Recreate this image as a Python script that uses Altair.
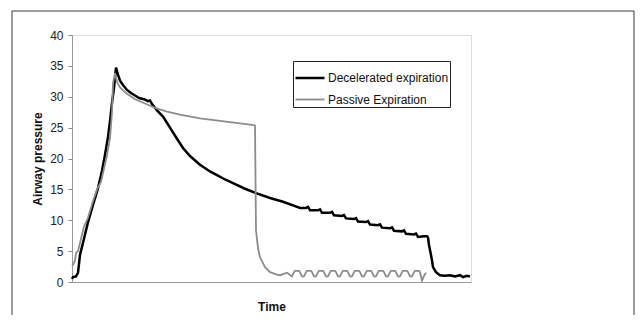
import altair as alt
import pandas as pd

series = ["Decelerated expiration", "Passive Expiration"]
y_ticks = [0, 5, 10, 15, 20, 25, 30, 35, 40]

# Decelerated expiration (time in arbitrary sample units)
dec_time = [0, 1, 4, 6, 8, 12, 16, 21, 26, 30, 33, 36, 38, 40, 42, 44,
            46, 48, 51, 55, 59, 63, 67, 72, 76, 78, 80, 85, 91, 98, 105, 111,
            118, 128, 138, 145, 153, 161, 173, 184, 198, 211, 221, 228,
            234, 236, 238, 246, 248, 250, 258, 260, 262, 270, 272, 274,
            282, 284, 286, 294, 296, 298, 306, 308, 310, 318, 320, 322,
            330, 332, 334, 342, 344, 346, 352, 355, 356, 357, 358, 360,
            361, 364, 368, 373, 378, 383, 388, 391, 395, 398]
dec_pres = [0.5, 0.8, 0.9, 1.5, 4.4, 7.0, 9.7, 12.5, 15.2, 18.0, 20.6, 23.5, 26.0, 29.0, 31.4, 34.7,
            33.6, 32.6, 31.9, 31.1, 30.6, 30.2, 29.8, 29.6, 29.3, 29.4, 28.8, 27.8, 26.8, 25.0, 23.2, 21.7,
            20.4, 19.0, 17.9, 17.3, 16.6, 16.0, 15.1, 14.4, 13.6, 13.0, 12.4, 12.0,
            12.0, 12.15, 11.6, 11.6, 11.75, 11.2, 11.2, 11.35, 10.8, 10.7, 10.85, 10.3,
            10.2, 10.35, 9.8, 9.7, 9.85, 9.3, 9.2, 9.35, 8.8, 8.7, 8.85, 8.3,
            8.2, 8.35, 7.8, 7.7, 7.85, 7.3, 7.4, 7.4, 7.2, 6.0, 5.2, 3.5,
            2.4, 1.6, 1.1, 1.0, 1.1, 0.9, 1.1, 0.8, 1.0, 0.9]

# Passive expiration
pas_time = [0, 1, 3, 4, 6, 9, 12, 16, 20, 25, 29, 35, 38, 40, 41, 43,
            45, 48, 54, 63, 76, 83, 95, 108, 128, 148, 168, 182, 183,
            184, 186, 188, 193, 198, 205, 208, 215,
            220, 222, 223, 227, 228, 230,
            232, 234, 235, 239, 240, 242,
            244, 246, 247, 251, 252, 254,
            256, 258, 259, 263, 264, 266,
            268, 270, 271, 275, 276, 278,
            280, 282, 283, 287, 288, 290,
            292, 294, 295, 299, 300, 302,
            304, 306, 307, 311, 312, 314,
            316, 318, 319, 323, 324, 326,
            328, 330, 331, 335, 336, 338,
            340, 342, 343, 347, 348, 350, 352, 354]
pas_pres = [2.6, 2.8, 3.5, 4.7, 5.0, 7.0, 9.0, 10.4, 12.6, 15.0, 16.2, 20.5, 23.3, 27.5, 32.2, 33.8,
            32.4, 31.5, 30.6, 29.6, 28.7, 28.2, 27.6, 27.1, 26.5, 26.1, 25.7, 25.4, 25.3,
            8.4, 5.5, 4.0, 2.4, 1.6, 1.2, 1.1, 1.5,
            0.9, 1.6, 1.8, 1.8, 1.6, 0.9,
            0.9, 1.6, 1.8, 1.8, 1.6, 0.9,
            0.9, 1.6, 1.8, 1.8, 1.6, 0.9,
            0.9, 1.6, 1.8, 1.8, 1.6, 0.9,
            0.9, 1.6, 1.8, 1.8, 1.6, 0.9,
            0.9, 1.6, 1.8, 1.8, 1.6, 0.9,
            0.9, 1.6, 1.8, 1.8, 1.6, 0.9,
            0.9, 1.6, 1.8, 1.8, 1.6, 0.9,
            0.9, 1.6, 1.8, 1.8, 1.6, 0.9,
            0.9, 1.6, 1.8, 1.8, 1.6, 0.9,
            0.9, 1.6, 1.8, 1.8, 1.6, 0.2, 1.0, 1.5]

df = pd.concat([
    pd.DataFrame({"t": dec_time, "p": dec_pres, "s": series[0]}),
    pd.DataFrame({"t": pas_time, "p": pas_pres, "s": series[1]}),
])

FONT = "Liberation Sans"
FRAME = "#3a3a3a"


def frame_rule(**enc):
    return alt.Chart(alt.Data(values=[{"k": 1}])).mark_rule(
        stroke=FRAME, strokeWidth=1
    ).encode(**enc)


frame_top = frame_rule(x=alt.value(-60), x2=alt.value(562), y=alt.value(-24))
frame_left = frame_rule(x=alt.value(-60), y=alt.value(-24), y2=alt.value(300))
frame_right = frame_rule(x=alt.value(562), y=alt.value(-24), y2=alt.value(300))

lines = alt.Chart(df).mark_line(interpolate="linear").encode(
    x=alt.X("t:Q", scale=alt.Scale(domain=[0, 399], nice=False, zero=False),
            axis=alt.Axis(title="Time", labels=False, ticks=False, grid=False,
                          titlePadding=19, titleFontWeight="bold", titleFontSize=12,
                          titleFont=FONT, titleColor="#111111", domainColor="#999999")),
    y=alt.Y("p:Q", scale=alt.Scale(domain=[0, 40], nice=False),
            axis=alt.Axis(title="Airway pressure", values=y_ticks, grid=False,
                          tickSize=4, tickColor="#888888", domainColor="#999999",
                          labelFont=FONT, labelFontSize=12, labelColor="#222222",
                          labelPadding=5, titlePadding=5, titleFontWeight="bold",
                          titleFontSize=12, titleFont=FONT, titleColor="#111111")),
    color=alt.Color("s:N", scale=alt.Scale(domain=series, range=["#000000", "#8c8c8c"]),
                    legend=alt.Legend(title=None, orient="none", legendX=221, legendY=26,
                                      symbolType="stroke", symbolSize=841,
                                      labelFont=FONT, labelFontSize=12, labelColor="#111111",
                                      strokeColor="#222222", fillColor="white",
                                      padding=1, rowPadding=0, labelOffset=2,
                                      symbolStrokeWidth=alt.ExprRef(
                                          expr="datum.value === 'Decelerated expiration' ? 2.5 : 1.5"))),
    strokeWidth=alt.StrokeWidth("s:N", scale=alt.Scale(domain=series, range=[2.5, 1.8]),
                                legend=None),
)

chart = alt.layer(frame_top, frame_left, frame_right, lines).properties(
    width=399, height=247,
    autosize=alt.AutoSizeParams(type="none"),
    padding={"left": 64, "top": 27, "right": 164, "bottom": 33},
).configure_view(stroke="#999999", strokeWidth=1).configure(background="white")

chart.save("out.html", embed_options={"renderer": "svg", "actions": False})
